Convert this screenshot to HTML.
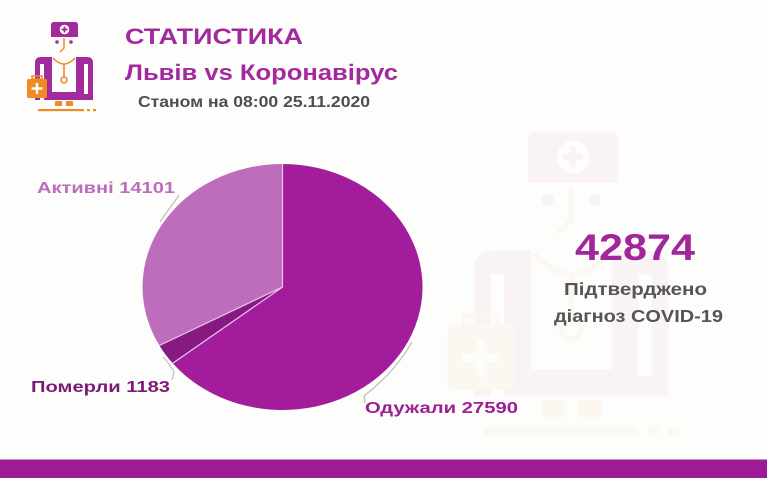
<!DOCTYPE html>
<html><head><meta charset="utf-8"><style>
html,body{margin:0;padding:0;background:#fdfdfb;}
svg{display:block;}
text{font-family:"Liberation Sans","Noto Sans CJK JP",sans-serif;font-weight:bold;}
</style></head><body>
<svg width="767" height="478" viewBox="0 0 767 478" xmlns="http://www.w3.org/2000/svg">
<rect width="767" height="478" fill="#fdfdfb"/>
<defs>
<g id="doc">
  <path d="M51 25 Q51 22 54 22 L75 22 Q78 22 78 25 L78 37 L51 37 Z" fill="#a12a9c"/>
  <circle cx="64.5" cy="29.5" r="4.8" fill="#fff"/>
  <rect x="63.6" y="26.5" width="1.8" height="6" fill="#a12a9c"/>
  <rect x="61.5" y="28.6" width="6" height="1.8" fill="#a12a9c"/>
  <circle cx="57" cy="42" r="1.8" fill="#a12a9c"/>
  <circle cx="71" cy="42" r="1.8" fill="#a12a9c"/>
  <path d="M64 38 L64 48 L60 52" stroke="#f08a24" stroke-width="1.5" fill="none"/>
  <path d="M35 100 L35 63 Q35 57 41 57 L52 57 L52 100 Z" fill="#a12a9c"/>
  <path d="M93 100 L93 63 Q93 57 87 57 L76 57 L76 100 Z" fill="#a12a9c"/>
  <rect x="40" y="64" width="4" height="36" fill="#fff"/>
  <rect x="84" y="64" width="4" height="30" fill="#fff"/>
  <rect x="52" y="92" width="24" height="8" fill="#a12a9c"/>
  <path d="M53 58 Q64 70 75 58" stroke="#f08a24" stroke-width="1.6" fill="none"/>
  <path d="M64 64 L64 77" stroke="#f08a24" stroke-width="1.6" fill="none"/>
  <circle cx="64" cy="80" r="3" stroke="#f08a24" stroke-width="1.6" fill="none"/>
  <rect x="27" y="79" width="20" height="19" rx="1.5" fill="#f08a24"/>
  <rect x="32" y="76" width="10" height="3" fill="none" stroke="#f08a24" stroke-width="1.5"/>
  <rect x="35.8" y="83" width="2.4" height="11" fill="#fff"/>
  <rect x="31.5" y="87.3" width="11" height="2.4" fill="#fff"/>
  <rect x="55" y="101" width="7" height="5" fill="#f08a24"/>
  <rect x="66" y="101" width="7" height="5" fill="#f08a24"/>
  <rect x="38" y="109" width="46" height="2.2" fill="#f08a24"/>
  <rect x="87" y="109" width="3" height="2.2" fill="#f08a24"/>
  <rect x="93" y="109" width="3" height="2.2" fill="#f08a24"/>
</g>
</defs>
<!-- watermark -->
<g opacity="0.04" transform="translate(573,157) scale(3.35,3.4) translate(-64.5,-29.5)">
  <use href="#doc"/>
</g>
<use href="#doc"/>

<text x="125" y="44" font-size="22" fill="#a3299e" textLength="178" lengthAdjust="spacingAndGlyphs">СТАТИСТИКА</text>
<text x="125" y="80" font-size="22" fill="#a3299e" textLength="273" lengthAdjust="spacingAndGlyphs">Львів vs Коронавірус</text>
<text x="138" y="107" font-size="15.5" fill="#4e4e4e" textLength="232" lengthAdjust="spacingAndGlyphs">Станом на 08:00 25.11.2020</text>

<path d="M282.5 287 L282.5 164 A140 123 0 1 1 172.7 363.3 Z" fill="#a21c9c"/>
<path d="M282.5 287 L172.7 363.3 A140 123 0 0 1 159.4 345.5 Z" fill="#861a82"/>
<path d="M282.5 287 L159.4 345.5 A140 123 0 0 1 282.5 164 Z" fill="#bd6dbb"/>
<path d="M282.5 164 L282.5 287 L172.7 363.3 M282.5 287 L159.4 345.5" stroke="#ecc6ea" stroke-width="1.2" fill="none"/>

<path d="M179 195 L175 201 Q168 210 160 222" stroke="#bbbbbb" stroke-width="1.2" fill="none"/>
<path d="M172 380 L174 372 Q170 364 163 357" stroke="#bbbbbb" stroke-width="1.2" fill="none"/>
<path d="M365 403 L364 396 Q395 372 412 342" stroke="#bbbbbb" stroke-width="1.2" fill="none"/>

<text x="37" y="193" font-size="16" fill="#bd6dbb" textLength="138" lengthAdjust="spacingAndGlyphs">Активні 14101</text>
<text x="31" y="392" font-size="16" fill="#7d1a78" textLength="139" lengthAdjust="spacingAndGlyphs">Померли 1183</text>
<text x="365" y="413" font-size="16" fill="#9e1e98" textLength="153" lengthAdjust="spacingAndGlyphs">Одужали 27590</text>

<text x="575" y="260" font-size="37" fill="#a1259b" textLength="120" lengthAdjust="spacingAndGlyphs">42874</text>
<text x="564" y="295" font-size="17.5" fill="#555555" textLength="143" lengthAdjust="spacingAndGlyphs">Підтверджено</text>
<text x="554" y="322" font-size="17.5" fill="#555555" textLength="169" lengthAdjust="spacingAndGlyphs">діагноз COVID-19</text>

<rect x="0" y="460" width="767" height="18" fill="#9e1b96"/>
<rect x="0" y="459" width="767" height="1" fill="#c690c2"/>
</svg>
</body></html>
